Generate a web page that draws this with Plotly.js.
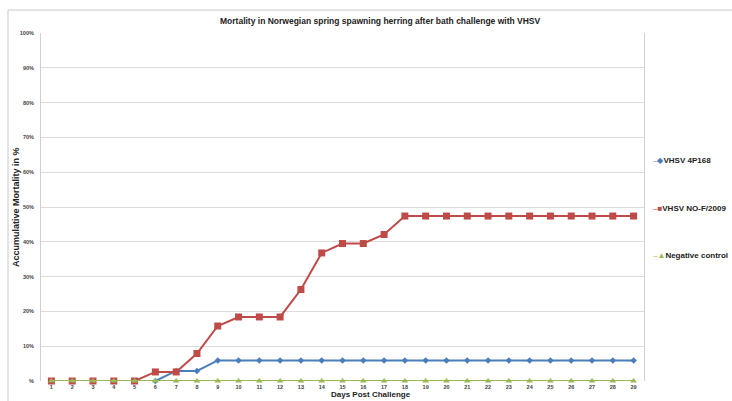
<!DOCTYPE html>
<html>
<head>
<meta charset="utf-8">
<script src="https://cdn.plot.ly/plotly-3.0.1.min.js"></script>
<style>
html,body{margin:0;padding:0;background:#fff;}
#chart{width:732px;height:401px;}
</style>
</head>
<body>
<div id="chart"></div>
<script>
var days = [1,2,3,4,5,6,7,8,9,10,11,12,13,14,15,16,17,18,19,20,21,22,23,24,25,26,27,28,29];
var seriesNames = ["VHSV 4P168", "VHSV NO-F/2009", "Negative control"];
var vhsv4P168 = [0,0,0,0,0,0,2.9,2.9,5.9,5.9,5.9,5.9,5.9,5.9,5.9,5.9,5.9,5.9,5.9,5.9,5.9,5.9,5.9,5.9,5.9,5.9,5.9,5.9,5.9];
var vhsvNOF2009 = [0,0,0,0,0,2.6,2.6,7.9,15.8,18.4,18.4,18.4,26.3,36.8,39.5,39.5,42.1,47.4,47.4,47.4,47.4,47.4,47.4,47.4,47.4,47.4,47.4,47.4,47.4];
var negativeControl = [0,0,0,0,0,0,0,0,0,0,0,0,0,0,0,0,0,0,0,0,0,0,0,0,0,0,0,0,0];
var yTickVals = [0,10,20,30,40,50,60,70,80,90,100];
var yTickText = ["%","10%","20%","30%","40%","50%","60%","70%","80%","90%","100%"];
var chartTitle = "Mortality in Norwegian spring spawning herring after bath challenge with VHSV";
var xTitle = "Days Post Challenge";
var yTitle = "Accumulative Mortality in %";

var colors = ["#4a7ebb", "#be4b48", "#98b954"];
var symbols = ["diamond", "square", "triangle-up"];
var sizes = [5, 7, 6];
var glyphs = ["◆", "■", "▲"];
var values = [vhsv4P168, vhsvNOF2009, negativeControl];

var traces = values.map(function(v, i){
  return {
    x: days, y: v, name: seriesNames[i], type: "scatter", mode: "lines+markers",
    line: {color: colors[i], width: 2},
    marker: {color: colors[i], symbol: symbols[i], size: sizes[i]},
    cliponaxis: false
  };
});

var L = 41, R = 644, T = 33, B = 381, W = 732, H = 401;
var pw = R - L, ph = B - T;
function px(x){ return (x - L) / pw; }
function py(y){ return (B - y) / ph; }

var legendY = [160, 208, 255];
var FONT = "Liberation Sans, Arial, sans-serif";
var annotations = [
  {text: "<b>" + chartTitle + "</b>", xref: "paper", yref: "paper", x: px(380), y: py(21),
   xanchor: "center", yanchor: "middle", showarrow: false,
   font: {family: FONT, size: 8.5, color: "#222"}},
  {text: "<b>" + xTitle + "</b>", xref: "paper", yref: "paper", x: px(371), y: py(H),
   xanchor: "center", yanchor: "bottom", showarrow: false,
   font: {family: FONT, size: 8, color: "#222"}},
  {text: "<b>" + yTitle + "</b>", xref: "paper", yref: "paper", x: px(16), y: 0.5,
   xanchor: "center", yanchor: "middle", textangle: -90, showarrow: false,
   font: {family: FONT, size: 9, color: "#222"}}
];
seriesNames.forEach(function(n, i){
  annotations.push({
    text: '<span style="color:' + colors[i] + ';font-size:8px">–' + glyphs[i] + '</span><b>' + n + '</b>',
    xref: "paper", yref: "paper", x: px(651), y: py(legendY[i]),
    xanchor: "left", yanchor: "middle", showarrow: false,
    font: {family: FONT, size: 8, color: "#222"}
  });
});

var layout = {
  width: W, height: H,
  margin: {l: L, r: W - R, t: T, b: H - B, pad: 0},
  paper_bgcolor: "#fff", plot_bgcolor: "#fff",
  showlegend: false,
  font: {family: FONT},
  xaxis: {
    range: [0.5, 29.5], tickvals: days, ticktext: days.map(String),
    showgrid: false, zeroline: false, showline: false,
    ticks: "", ticklabelstandoff: 1,
    tickfont: {size: 5.5, color: "#444", family: FONT, weight: "bold"}
  },
  yaxis: {
    range: [0, 100], tickvals: yTickVals, ticktext: yTickText,
    showgrid: true, gridcolor: "#dcdcdc", gridwidth: 1, zeroline: false,
    showline: true, linecolor: "#d0d0d0", linewidth: 1, mirror: true,
    ticks: "", ticklabelstandoff: 5,
    tickfont: {size: 5.5, color: "#444", family: FONT, weight: "bold"}
  },
  shapes: [
    {type: "line", xref: "paper", yref: "paper", x0: px(8), x1: px(8), y0: py(10), y1: py(H + 5),
     line: {color: "#c8c8c8", width: 1}},
    {type: "line", xref: "paper", yref: "paper", x0: px(8), x1: px(W + 5), y0: py(10), y1: py(10),
     line: {color: "#c8c8c8", width: 1}}
  ],
  annotations: annotations
};

Plotly.newPlot("chart", traces, layout, {displayModeBar: false, staticPlot: true});
</script>
</body>
</html>
